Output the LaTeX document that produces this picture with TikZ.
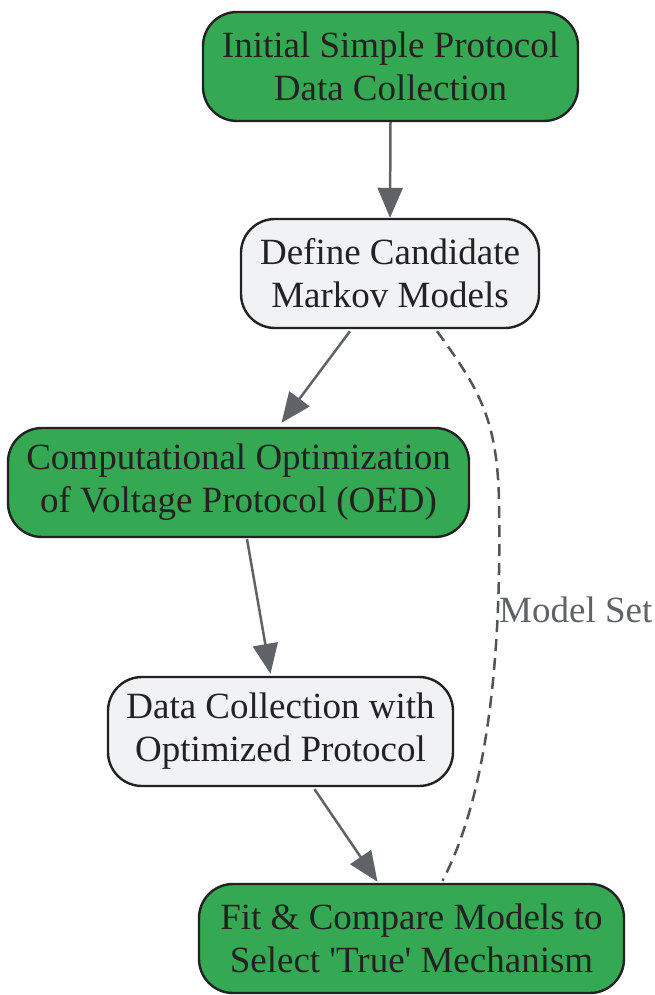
\documentclass[tikz,border=0pt]{standalone}
\usepackage{fontspec}
\setmainfont{Liberation Serif}
\usetikzlibrary{arrows.meta}
\definecolor{gfill}{HTML}{34A853}
\definecolor{lfill}{HTML}{F1F2F4}
\definecolor{bord}{HTML}{222222}
\definecolor{edgec}{HTML}{5F6368}
\definecolor{txt}{HTML}{222222}
\begin{document}
\begin{tikzpicture}[x=1pt,y=-1pt,
  box/.style={draw=bord, line width=2.4pt, rounded corners=34pt, minimum height=109pt,
    inner sep=0pt, align=center, text=txt, font=\fontsize{37}{43}\selectfont},
  gbox/.style={box, fill=gfill},
  lbox/.style={box, fill=lfill},
  conn/.style={draw=edgec, line width=2.5pt, -{Triangle[length=30pt,width=25pt]}},
  dconn/.style={draw=edgec!85!black, line width=2.5pt, dash pattern=on 12pt off 7pt},
  lbl/.style={text=edgec, font=\fontsize{37}{40}\selectfont, inner sep=0pt}]
\useasboundingbox (0,0) rectangle (655,995);
\node[gbox, minimum width=375pt] (n1) at (390.5,66.5) {Initial Simple Protocol\\Data Collection};
\node[lbox, minimum width=298pt] (n2) at (390,273.5) {Define Candidate\\Markov Models};
\node[gbox, minimum width=461pt] (n3) at (238.5,482.5) {Computational Optimization\\of Voltage Protocol (OED)};
\node[lbox, minimum width=345pt] (n4) at (280.5,731.5) {Data Collection with\\Optimized Protocol};
\node[gbox, minimum width=425pt] (n5) at (411.5,938.5) {Fit \& Compare Models to\\Select \textquotesingle True\textquotesingle{} Mechanism};
\draw[conn] (n1.south) -- (n2.north);
\draw[conn] ([xshift=-40pt,yshift=-2pt]n2.south) -- ([xshift=43pt,yshift=4pt]n3.north);
\draw[conn] ([xshift=8.5pt,yshift=-1pt]n3.south) -- ([xshift=-10pt,yshift=2pt]n4.north);
\draw[conn] ([xshift=34pt,yshift=-2pt]n4.south) -- ([xshift=-34pt,yshift=1pt]n5.north);
\coordinate (m) at (499,500);
\draw[dconn] ([xshift=47pt,yshift=-2pt]n2.south) .. controls (480,390) and (497,420) .. (m)
  .. controls (501,620) and (495,780) .. ([xshift=31pt,yshift=2pt]n5.north);
\node[lbl, anchor=west] (ms) at (499,610) {Model Set};
\end{tikzpicture}
\end{document}
